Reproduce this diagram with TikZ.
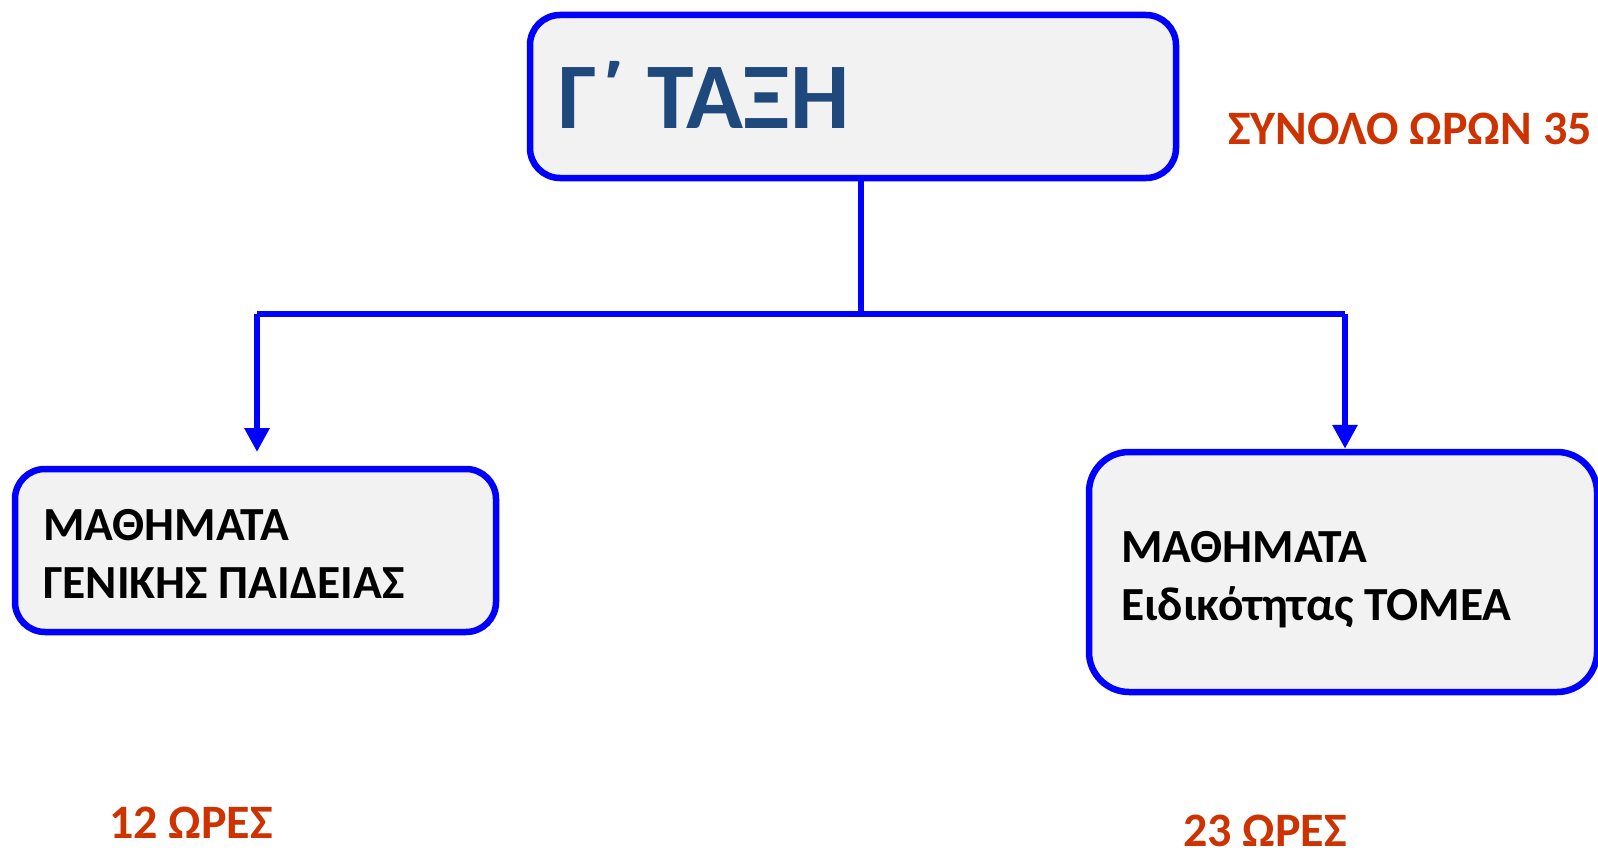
\documentclass[tikz,border=0pt]{standalone}
\usepackage{fontspec}
\setmainfont{Carlito}
\usetikzlibrary{arrows.meta}
\definecolor{boxblue}{RGB}{0,0,255}
\definecolor{boxfill}{RGB}{242,242,242}
\definecolor{titleblue}{RGB}{31,73,125}
\definecolor{hoursred}{RGB}{204,51,0}
\tikzset{
  box/.style={draw=boxblue, fill=boxfill, line width=6.5pt, rounded corners=30pt, inner sep=0pt},
  conn/.style={draw=boxblue, line width=6pt},
  tip/.style={-{Triangle[width=24pt,length=24pt]}},
  lbl/.style={font=\bfseries\fontsize{47.5}{58}\selectfont, align=left, anchor=base west, inner sep=0pt},
  hours/.style={font=\bfseries\fontsize{48}{56}\selectfont, text=hoursred, anchor=base west, inner sep=0pt},
}
\begin{document}
\begin{tikzpicture}[x=1pt,y=-1pt]
\useasboundingbox (0,0) rectangle (1598,856);
% boxes
\node[box, minimum width=646pt, minimum height=163pt] (top) at (853,96.5) {};
\node[box, minimum width=481pt, minimum height=163pt] (lbox) at (255.5,550.5) {};
\node[box, rounded corners=40pt, minimum width=508pt, minimum height=240pt] (rbox) at (1343,572) {};
% texts
\node[font=\bfseries\fontsize{94}{100}\selectfont, text=titleblue, anchor=base west, inner sep=0pt] (title) at (558,129) {Γ΄ ΤΑΞΗ};
\node[hours] (total) at (1228,145) {ΣΥΝΟΛΟ ΩΡΩΝ 35};
\node[lbl] (ltext) at (43,598) {ΜΑΘΗΜΑΤΑ\\ΓΕΝΙΚΗΣ ΠΑΙΔΕΙΑΣ};
\node[lbl] (rtext) at (1121,620) {ΜΑΘΗΜΑΤΑ\\Ειδικότητας ΤΟΜΕΑ};
\node[hours] (lhours) at (109,838) {12 ΩΡΕΣ};
\node[hours] (rhours) at (1183,846) {23 ΩΡΕΣ};
% connectors
\coordinate (j) at (861,314);
\coordinate (jl) at (257,314);
\coordinate (jr) at (1345,314);
\coordinate (lend) at (257,452);
\draw[conn] (top.south -| j) -- (j);
\draw[conn] (jl) -- (jr);
\draw[conn, tip] (jl) -- (lend);
\draw[conn, tip] (jr) -- (jr |- rbox.north);
\end{tikzpicture}
\end{document}
